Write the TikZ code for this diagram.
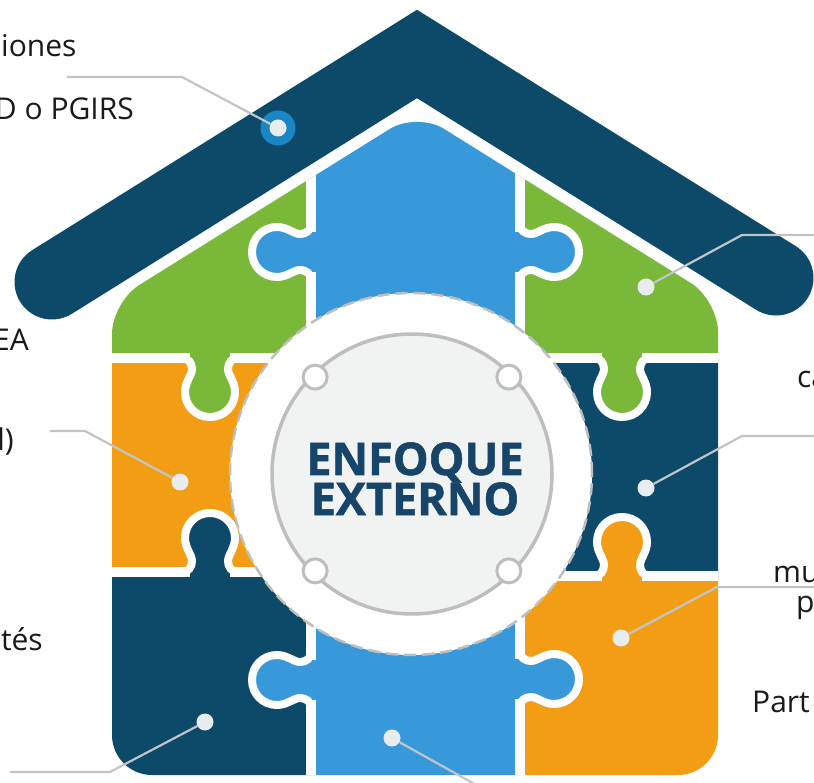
\documentclass[tikz,border=0pt]{standalone}
\usepackage{fontspec}
\setmainfont{Open Sans}
\newfontfamily\heavyfont{Open Sans}[BoldFeatures={FakeBold=1.2}]
\usetikzlibrary{positioning, calc}
\definecolor{roofblue}{RGB}{13,73,104}
\definecolor{skyblue}{RGB}{55,153,218}
\definecolor{leafgreen}{RGB}{122,184,58}
\definecolor{sunorange}{RGB}{243,157,21}
\definecolor{dotgray}{RGB}{233,236,238}
\definecolor{linegray}{RGB}{192,197,201}
\definecolor{ringgray}{RGB}{190,190,190}
\definecolor{corefill}{RGB}{241,242,242}
\definecolor{pinblue}{RGB}{27,134,197}
\definecolor{titleblue}{RGB}{22,69,105}
\definecolor{labelblack}{RGB}{26,26,26}
\tikzset{
  gap/.style={white, line width=10pt},
  callout/.style={draw=linegray, line width=2.2pt},
  dot/.style={circle, fill=dotgray, minimum size=17pt, inner sep=0pt},
  tag/.style={font=\fontsize{30}{36}\selectfont, text=labelblack, inner sep=0pt},
  headline/.style={font=\fontsize{45}{45}\selectfont\heavyfont\bfseries, text=titleblue,
    inner sep=0pt, anchor=base},
  knob/.pic={
    \fill[#1] (-20,-5.5) rectangle (20,0.5);
    \filldraw[fill=#1, draw=white, line width=8pt]
      (-27,0) .. controls (-22,0) and (-18,5) .. (-18,11)
      .. controls (-18,17) and (-25,24) .. (-25,34)
      .. controls (-25,48) and (-14,59) .. (0,59)
      .. controls (14,59) and (25,48) .. (25,34)
      .. controls (25,24) and (18,17) .. (18,11)
      .. controls (18,5) and (22,0) .. (27,0);
  },
}

\begin{document}
\begin{tikzpicture}[x=1pt, y=-1pt]
  \useasboundingbox (0,0) rectangle (814,783);
  \clip (0,0) rectangle (814,783);

  % roof
  \draw[roofblue, line width=75pt, line cap=round] (52,282) -- (417,54) -- (776,278);

  % puzzle pieces of the house
  \begin{scope}
    \clip[rounded corners=32pt] (112,540) -- (112,302) -- (417,112) -- (718,300)
      -- (718,540) [rounded corners=40pt] -- (718,775) -- (112,775) -- cycle;
    \fill[leafgreen] (100,100) rectangle (311,358);
    \fill[skyblue] (311,100) rectangle (520,480);
    \fill[leafgreen] (520,100) rectangle (730,358);
    \fill[sunorange] (100,358) rectangle (311,572);
    \fill[roofblue] (520,358) rectangle (730,576);
    \fill[roofblue] (100,572) rectangle (311,790);
    \fill[skyblue] (311,480) rectangle (520,790);
    \fill[sunorange] (520,576) rectangle (730,790);
    \draw[gap] (311,100) -- (311,790);
    \draw[gap] (520,100) -- (520,790);
    \draw[gap] (100,358) -- (311,358) (520,358) -- (730,358);
    \draw[gap] (100,572) -- (311,572) (520,576) -- (730,576);
    \pic[rotate=-90] at (311,252) {knob=skyblue};
    \pic[rotate=90] at (520,252) {knob=skyblue};
    \pic at (210,358) {knob=leafgreen};
    \pic at (622,358) {knob=leafgreen};
    \pic[rotate=180] at (210,572) {knob=roofblue};
    \pic[rotate=180] at (622,576) {knob=sunorange};
    \pic[rotate=-90] at (311,680) {knob=skyblue};
    \pic[rotate=90] at (520,679) {knob=skyblue};
  \end{scope}

  % central badge
  \node[circle, minimum size=362pt, fill=white, draw=ringgray, line width=2.5pt,
    dash pattern=on 12pt off 6pt] (halo) at (411,474) {};
  \node[circle, minimum size=280pt, fill=corefill, draw=ringgray, line width=3.5pt]
    (core) at (412,474) {};
  \foreach \a in {45,135,225,315}
    \node[circle, minimum size=24pt, fill=white, draw=ringgray, line width=3pt]
      at ($(core.center)+(\a:137pt)$) {};
  \node[headline] (top) at (415,475) {ENFOQUE};
  \node[headline] (bottom) at (415,515) {EXTERNO};

  % callouts
  \node[circle, fill=pinblue, minimum size=35pt, inner sep=0pt] (pin) at (278,128) {};
  \node[dot] (d1) at (pin) {};
  \node[dot] (d2) at (180,482) {};
  \node[dot] (d3) at (205,722) {};
  \node[dot] (d4) at (392,738) {};
  \node[dot] (d5) at (621,638) {};
  \node[dot] (d6) at (646,488) {};
  \node[dot] (d7) at (646,287) {};
  \coordinate (e1) at (67,77);   \coordinate (k1) at (182,77);
  \coordinate (e2) at (50,431);  \coordinate (k2) at (85,431);
  \coordinate (e3) at (10,772);  \coordinate (k3) at (110,772);
  \coordinate (e4) at (478,786);
  \coordinate (e5) at (820,587); \coordinate (k5) at (717,587);
  \coordinate (e6) at (820,436); \coordinate (k6) at (742,436);
  \coordinate (e7) at (820,235); \coordinate (k7) at (742,235);
  \draw[callout] (e1) -- (k1) -- (d1);
  \draw[callout] (e2) -- (k2) -- (d2);
  \draw[callout] (e3) -- (k3) -- (d3);
  \draw[callout] (d4) -- (e4);
  \draw[callout] (e5) -- (k5) -- (d5);
  \draw[callout] (e6) -- (k6) -- (d6);
  \draw[callout] (e7) -- (k7) -- (d7);

  % cut-off labels
  \node[tag, anchor=base west] (t1) at (1,57) {iones};
  \node[tag, anchor=base east] (t2) at (134,120) {D o PGIRS};
  \node[tag, anchor=base east] (t3) at (29,351) {EA};
  \node[tag, anchor=base east] (t4) at (14,450) {l)};
  \node[tag, anchor=base east] (t5) at (43,650) {tés};
  \node[tag, anchor=base west] (t6) at (797,388) {ca};
  \node[tag, anchor=base west] (t7) at (773,582) {mu};
  \node[tag, anchor=base west] (t8) at (796,612) {p};
  \node[tag, anchor=base west] (t9) at (752,712) {Part};
\end{tikzpicture}
\end{document}
